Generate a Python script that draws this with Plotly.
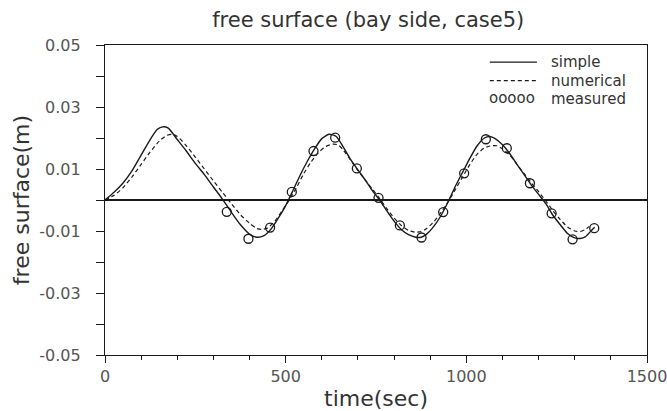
import plotly.graph_objects as go

# ---- data ----
simple_t = [0, 25, 50, 75, 100, 125, 145, 160, 175, 200, 225, 250, 275, 300, 325, 350, 375, 400, 420, 440,
            460, 480, 500, 520, 540, 560, 580, 600, 620, 640, 660, 680, 700, 720, 740, 760, 780, 800, 820, 840,
            860, 875, 890, 910, 930, 950, 970, 990, 1010, 1030, 1050, 1065, 1080, 1100, 1120, 1140, 1160, 1180,
            1200, 1220, 1240, 1260, 1280, 1300, 1315, 1330, 1345, 1355]
simple_v = [0.0, 0.0025, 0.0055, 0.0095, 0.0145, 0.0195, 0.0228, 0.0236, 0.0232, 0.0195, 0.0158, 0.0118,
            0.0082, 0.0042, 0.0003, -0.0040, -0.0080, -0.0110, -0.0120, -0.0115, -0.0093, -0.0058, -0.0018,
            0.0030, 0.0080, 0.0125, 0.0165, 0.0198, 0.0212, 0.0205, 0.0170, 0.0130, 0.0097, 0.0065, 0.0030,
            0.0000, -0.0035, -0.0068, -0.0095, -0.0112, -0.0120, -0.0120, -0.0110, -0.0085, -0.0050, -0.0005,
            0.0045, 0.0090, 0.0135, 0.0175, 0.0200, 0.0205, 0.0198, 0.0178, 0.0150, 0.0115, 0.0082, 0.0048,
            0.0018, -0.0012, -0.0050, -0.0080, -0.0108, -0.0122, -0.0124, -0.0118, -0.0100, -0.0088]

numerical_t = [0, 25, 50, 75, 100, 125, 150, 170, 185, 200, 225, 250, 275, 300, 325, 350, 375, 400, 420, 435,
               450, 470, 490, 510, 530, 550, 570, 590, 610, 630, 645, 660, 680, 700, 720, 740, 760, 780, 800,
               820, 840, 860, 875, 890, 910, 930, 950, 970, 990, 1010, 1030, 1050, 1070, 1085, 1100, 1120, 1140,
               1160, 1180, 1200, 1220, 1240, 1260, 1280, 1300, 1315, 1330, 1340]
numerical_v = [0.0, 0.0015, 0.0040, 0.0075, 0.0115, 0.0155, 0.0190, 0.0208, 0.0212, 0.0205, 0.0175, 0.0138,
               0.0100, 0.0062, 0.0025, -0.0012, -0.0048, -0.0075, -0.0092, -0.0095, -0.0090, -0.0068, -0.0035,
               0.0000, 0.0040, 0.0085, 0.0122, 0.0152, 0.0172, 0.0180, 0.0178, 0.0160, 0.0128, 0.0095, 0.0065,
               0.0035, 0.0005, -0.0028, -0.0058, -0.0082, -0.0098, -0.0104, -0.0102, -0.0092, -0.0070, -0.0040,
               -0.0005, 0.0035, 0.0075, 0.0115, 0.0148, 0.0168, 0.0175, 0.0175, 0.0165, 0.0145, 0.0115, 0.0085,
               0.0055, 0.0027, -0.0003, -0.0035, -0.0063, -0.0087, -0.0100, -0.0102, -0.0095, -0.0085]

measured_t = [337, 397, 457, 517, 577, 637, 697, 757, 816, 876, 936, 994, 1054, 1112, 1176, 1236, 1294, 1354]
measured_v = [-0.0038, -0.0125, -0.0089, 0.0026, 0.0158, 0.0201, 0.0102, 0.0007, -0.0082, -0.0121, -0.0039,
              0.0086, 0.0196, 0.0167, 0.0054, -0.0043, -0.0127, -0.0091]

series_names = ["simple", "numerical", "measured"]

x_tickvals = [0, 500, 1000, 1500]
x_ticktext = ["0", "500", "1000", "1500"]
y_tickvals = [0.05, 0.03, 0.01, -0.01, -0.03, -0.05]
y_ticktext = ["0.05", "0.03", "0.01", "-0.01", "-0.03", "-0.05"]

FONT = "DejaVu Sans"
INK = "#1a1a1a"
TXT = "#333333"

fig = go.Figure()
fig.add_trace(go.Scatter(x=simple_t, y=simple_v, mode="lines", name=series_names[0],
                         line=dict(color=INK, width=1.4, shape="spline", smoothing=0.6)))
fig.add_trace(go.Scatter(x=numerical_t, y=numerical_v, mode="lines", name=series_names[1],
                         line=dict(color=INK, width=1.2, dash="4px,3px", shape="spline", smoothing=0.6)))
fig.add_trace(go.Scatter(x=measured_t, y=measured_v, mode="markers", name=series_names[2],
                         marker=dict(symbol="circle-open", size=9, color=INK, line=dict(width=1.3, color=INK))))

axis_common = dict(showgrid=False, showline=True, linecolor=INK, linewidth=1.3, mirror=True,
                   ticks="outside", tickcolor=INK, tickwidth=1.1,
                   tickfont=dict(family=FONT, size=16, color="#555555"))

# hand-made legend in the top-right corner (paper coordinates of the plot area)
leg_rows = [0.945, 0.885, 0.825]
x0, x1, xt = 0.710, 0.797, 0.819
shapes = [
    dict(type="line", xref="paper", yref="paper", x0=x0, x1=x1, y0=leg_rows[0], y1=leg_rows[0],
         line=dict(color=INK, width=1.3)),
    dict(type="line", xref="paper", yref="paper", x0=x0, x1=x1, y0=leg_rows[1], y1=leg_rows[1],
         line=dict(color=INK, width=1.1, dash="4px,3px")),
]
annotations = [
    dict(xref="paper", yref="paper", x=xt, y=leg_rows[i], text=series_names[i], showarrow=False,
         xanchor="left", yanchor="middle", font=dict(family=FONT, size=15, color=TXT))
    for i in range(3)
]
annotations.append(dict(xref="paper", yref="paper", x=x0 - 0.006, y=leg_rows[2] + 0.004, text="ooooo",
                        showarrow=False, xanchor="left", yanchor="middle",
                        font=dict(family=FONT, size=15, color=TXT)))

fig.update_layout(
    width=667, height=411,
    margin=dict(l=105, r=20, t=45, b=56),
    paper_bgcolor="white", plot_bgcolor="white",
    font=dict(family=FONT, color=INK),
    showlegend=False,
    shapes=shapes,
    annotations=annotations,
    title=dict(text="free surface (bay side, case5)", x=0.552, xanchor="center", y=0.951, yanchor="middle",
               font=dict(family=FONT, size=21, color=TXT)),
    xaxis=dict(range=[0, 1500], tickvals=x_tickvals, ticktext=x_ticktext, ticklen=7,
               minor=dict(dtick=100, tick0=0, ticks="outside", ticklen=4, tickcolor=INK),
               zeroline=False, automargin=False, ticklabeloverflow="allow",
               title=dict(text="time(sec)", font=dict(family=FONT, size=22, color=TXT)),
               **axis_common),
    yaxis=dict(range=[-0.05, 0.05], tickvals=y_tickvals, ticktext=y_ticktext, ticklen=8,
               ticklabelstandoff=12,
               minor=dict(tickvals=[0.04, 0.02, 0.0, -0.02, -0.04], ticks="outside", ticklen=8, tickcolor=INK),
               zeroline=True, zerolinecolor=INK, zerolinewidth=1.5,
               title=dict(text="free surface(m)", font=dict(family=FONT, size=22, color=TXT), standoff=3),
               **axis_common),
)

fig.write_html("out.html")
